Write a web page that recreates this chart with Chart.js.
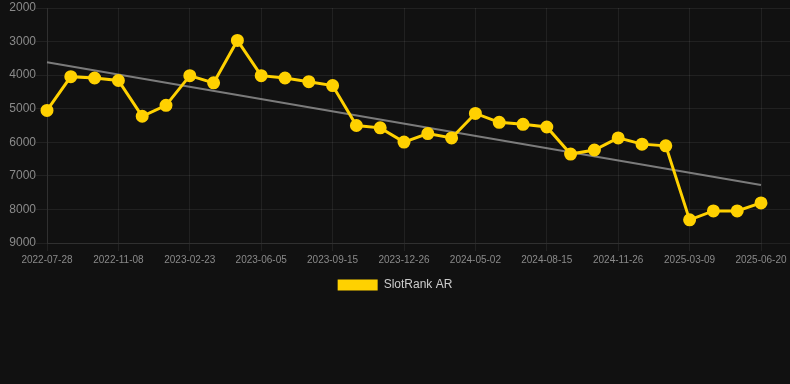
<!DOCTYPE html>
<html>
<head>
<meta charset="utf-8">
<script src="https://cdn.jsdelivr.net/npm/chart.js@4/dist/chart.umd.min.js"></script>
<style>
    html, body { margin: 0; padding: 0; background: #111111; }
    #wrap { position: relative; width: 790px; height: 301px; }
</style>
</head>
<body>
<div id="wrap"><canvas id="rank"></canvas></div>
<script>
const dates = [
    '2022-07-28', '2022-08-31', '2022-10-04', '2022-11-08', '2022-12-12', '2023-01-17',
    '2023-02-23', '2023-03-29', '2023-05-02', '2023-06-05', '2023-07-10', '2023-08-11',
    '2023-09-15', '2023-10-18', '2023-11-22', '2023-12-26', '2024-02-07', '2024-03-20',
    '2024-05-02', '2024-06-06', '2024-07-11', '2024-08-15', '2024-09-18', '2024-10-22',
    '2024-11-26', '2024-12-30', '2025-02-02', '2025-03-09', '2025-04-12', '2025-05-16',
    '2025-06-20'
];

const slotRank = [
    5050, 4045, 4085, 4160, 5225, 4900, 4015, 4230, 2965, 4015, 4085, 4195,
    4310, 5500, 5570, 5995, 5740, 5870, 5140, 5405, 5465, 5545, 6350, 6230,
    5870, 6055, 6105, 8310, 8045, 8045, 7805
];

// trend line, first and last value only
const trendStart = 3614;
const trendEnd = 7270;

const yellow = 'rgb(255, 209, 0)';
const gridColor = 'rgba(255, 255, 255, 0.07)';
const tickColor = '#8a8a8a';
const fontFamily = 'Arial, "Liberation Sans", sans-serif';

const trend = dates.map(() => null);
trend[0] = trendStart;
trend[trend.length - 1] = trendEnd;

const cfg = {
    type: 'line',
    data: {
        labels: dates,
        datasets: [
        {
            label: 'SlotRank AR',
            data: slotRank,
            borderColor: yellow,
            backgroundColor: yellow,
            borderWidth: 3,
            pointRadius: 5,
            pointHoverRadius: 5,
            pointBackgroundColor: yellow,
            pointBorderColor: yellow,
            tension: 0,
            order: 1,
        },
        {
            label: 'trend',
            data: trend,
            spanGaps: true,
            borderColor: 'rgba(150, 150, 150, 0.8)',
            borderWidth: 2,
            pointRadius: 0,
            tension: 0,
            order: 2,
        },
        ],
    },
    options: {
        animation: false,
        responsive: true,
        maintainAspectRatio: false,
        layout: { padding: 0 },
        plugins: {
            tooltip: { enabled: false },
            legend: {
                position: 'bottom',
                labels: {
                    color: '#cccccc',
                    boxWidth: 40,
                    boxHeight: 11,
                    font: { size: 12, family: fontFamily },
                    filter: item => item.text !== 'trend',
                    generateLabels: chart => {
                        const items = Chart.defaults.plugins.legend.labels.generateLabels(chart);
                        items.forEach(it => { it.lineWidth = 0; });
                        return items;
                    },
                }
            }
        },
        scales: {
            x: {
                type: 'category',
                offset: false,
                grid: { color: gridColor, tickLength: 8 },
                border: { color: gridColor },
                ticks: {
                    color: tickColor,
                    maxRotation: 0,
                    autoSkip: true,
                    maxTicksLimit: 11,
                    font: { size: 10, family: fontFamily },
                },
            },
            y: {
                type: 'linear',
                position: 'left',
                reverse: true,
                min: 2000,
                max: 9000,
                afterFit: scale => { scale.width = 47; },
                grid: { color: gridColor, tickLength: 11 },
                border: { color: gridColor },
                ticks: {
                    stepSize: 1000,
                    color: tickColor,
                    padding: 0,
                    font: { size: 12, family: fontFamily, lineHeight: 1 },
                    callback: v => String(v),
                },
            },
            y2: {
                type: 'linear',
                position: 'right',
                reverse: true,
                min: 2000,
                max: 9000,
                grid: { color: gridColor, tickLength: 29, drawOnChartArea: false },
                border: { display: false },
                ticks: { stepSize: 1000, display: false },
            },
        },
    }
};

new Chart(document.getElementById('rank'), cfg);
</script>
</body>
</html>
